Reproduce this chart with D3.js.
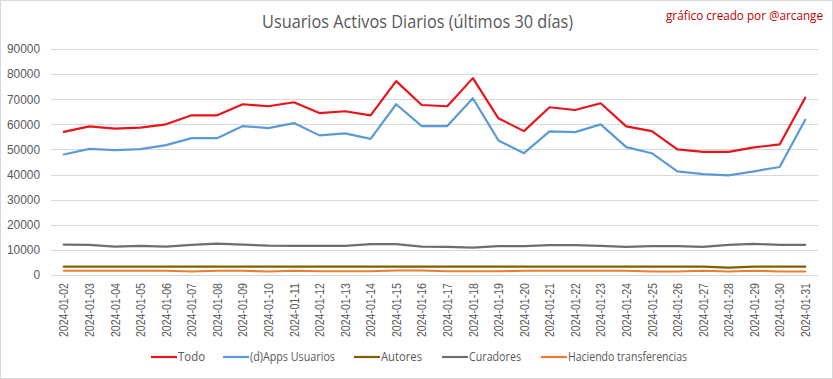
<!DOCTYPE html>
<html>
<head>
<meta charset="utf-8">
<script src="https://cdn.jsdelivr.net/npm/d3@7"></script>
<style>
  body { margin: 0; background: #fff; }
  svg { font-family: "Open Sans", Arial, sans-serif; }
</style>
</head>
<body>
<script>
// datos
var fechas = ["2024-01-02","2024-01-03","2024-01-04","2024-01-05","2024-01-06","2024-01-07","2024-01-08","2024-01-09","2024-01-10","2024-01-11",
  "2024-01-12","2024-01-13","2024-01-14","2024-01-15","2024-01-16","2024-01-17","2024-01-18","2024-01-19","2024-01-20","2024-01-21",
  "2024-01-22","2024-01-23","2024-01-24","2024-01-25","2024-01-26","2024-01-27","2024-01-28","2024-01-29","2024-01-30","2024-01-31"];

var todo = [57000,59200,58300,58700,60000,63600,63600,68000,67200,68800,
  64500,65200,63600,77200,67700,67200,78400,62400,57300,66800,
  65700,68400,59200,57300,50000,49000,49000,50800,52000,70600];
var dapps = [48000,50200,49700,50100,51700,54500,54500,59300,58500,60500,
  55600,56400,54200,68000,59300,59300,70400,53600,48500,57200,
  56900,60000,50900,48500,41300,40200,39700,41300,43000,61800];
var autores = [3300,3300,3300,3300,3300,3300,3300,3300,3300,3300,
  3300,3300,3300,3300,3300,3300,3300,3300,3300,3300,
  3300,3300,3300,3300,3300,3300,2900,3300,3300,3300];
var curadores = [12100,12000,11300,11600,11300,12000,12500,12100,11700,11600,
  11600,11600,12300,12300,11300,11200,10900,11500,11500,11900,
  11900,11600,11200,11500,11500,11200,12000,12400,12000,12000];
var transferencias = [1700,1700,1700,1700,1700,1400,1700,1700,1400,1700,
  1500,1500,1500,1800,1800,1500,1500,1500,1700,1700,
  1700,1700,1700,1400,1400,1700,1400,1700,1400,1400];

var yTicks = [0,10000,20000,30000,40000,50000,60000,70000,80000,90000];

var series = [
  {name: "Todo", values: todo, color: "#e8141c"},
  {name: "(d)Apps Usuarios", values: dapps, color: "#5b9bd5"},
  {name: "Autores", values: autores, color: "#7f6000"},
  {name: "Curadores", values: curadores, color: "#6e6e6e"},
  {name: "Haciendo transferencias", values: transferencias, color: "#ed7d31"}
];

var width = 833, height = 379;
var margin = {top: 49, left: 51, right: 15, bottom: 104};

var svg = d3.select("body").append("svg")
  .attr("width", width)
  .attr("height", height);

svg.append("rect")
  .attr("x", 0.5).attr("y", 0.5)
  .attr("width", width - 1).attr("height", height - 1)
  .attr("fill", "#fff").attr("stroke", "#d9d9d9");

var x = d3.scalePoint()
  .domain(fechas)
  .range([margin.left, width - margin.right])
  .padding(0.5);

var y = d3.scaleLinear()
  .domain([0, 90000])
  .range([height - margin.bottom, margin.top]);

// lineas de cuadricula
svg.append("g")
  .selectAll("line")
  .data(yTicks)
  .join("line")
  .attr("x1", margin.left).attr("x2", width - margin.right)
  .attr("y1", function(d){ return Math.round(y(d)) + 0.5; })
  .attr("y2", function(d){ return Math.round(y(d)) + 0.5; })
  .attr("stroke", "#d9d9d9");

// eje y
var yAxis = svg.append("g")
  .attr("transform", "translate(" + (margin.left - 8) + ",0)")
  .call(d3.axisLeft(y).tickValues(yTicks).tickSize(0).tickFormat(d3.format("d")));
yAxis.select(".domain").remove();
yAxis.selectAll("text")
  .attr("fill", "#595959")
  .style("font-size", "12px")
  .attr("textLength", function(d){ return String(d).length * 6.6; })
  .attr("lengthAdjust", "spacingAndGlyphs");

// eje x
var xAxis = svg.append("g")
  .attr("transform", "translate(0," + (height - margin.bottom) + ")")
  .call(d3.axisBottom(x).tickSize(0));
xAxis.select(".domain").remove();
xAxis.selectAll("text")
  .attr("fill", "#595959")
  .style("font-size", "12px")
  .attr("transform", "rotate(-90)")
  .attr("text-anchor", "end")
  .attr("x", -8)
  .attr("y", 0)
  .attr("dy", "0.35em")
  .attr("textLength", 54)
  .attr("lengthAdjust", "spacingAndGlyphs");

// lineas de series
var line = d3.line()
  .x(function(d, i){ return x(fechas[i]); })
  .y(function(d){ return y(d); });

svg.append("g")
  .selectAll("path")
  .data(series.slice().reverse())
  .join("path")
  .attr("d", function(s){ return line(s.values); })
  .attr("fill", "none")
  .attr("stroke", function(s){ return s.color; })
  .attr("stroke-width", 2.2)
  .attr("stroke-linejoin", "round")
  .attr("stroke-linecap", "round");

// titulo
svg.append("text")
  .attr("x", 262).attr("y", 28)
  .attr("fill", "#595959")
  .style("font-size", "18px")
  .attr("textLength", 311)
  .attr("lengthAdjust", "spacingAndGlyphs")
  .text("Usuarios Activos Diarios (últimos 30 días)");

svg.append("text")
  .attr("x", 666).attr("y", 20)
  .attr("fill", "#c00000")
  .style("font-size", "12.5px")
  .attr("textLength", 157)
  .attr("lengthAdjust", "spacingAndGlyphs")
  .text("gráfico creado por @arcange");

// leyenda
var legendX = [151, 223, 354, 442, 541];
var legendW = [27, 85, 41, 52, 119];
var legend = svg.append("g")
  .selectAll("g")
  .data(series)
  .join("g")
  .attr("transform", function(s, i){ return "translate(" + legendX[i] + ",357)"; });
legend.append("line")
  .attr("x1", 0).attr("x2", 26)
  .attr("stroke", function(s){ return s.color; })
  .attr("stroke-width", 2.2);
legend.append("text")
  .attr("x", 27).attr("dy", "0.35em")
  .attr("fill", "#595959")
  .style("font-size", "12.5px")
  .attr("textLength", function(s, i){ return legendW[i]; })
  .attr("lengthAdjust", "spacingAndGlyphs")
  .text(function(s){ return s.name; });
</script>
</body>
</html>
